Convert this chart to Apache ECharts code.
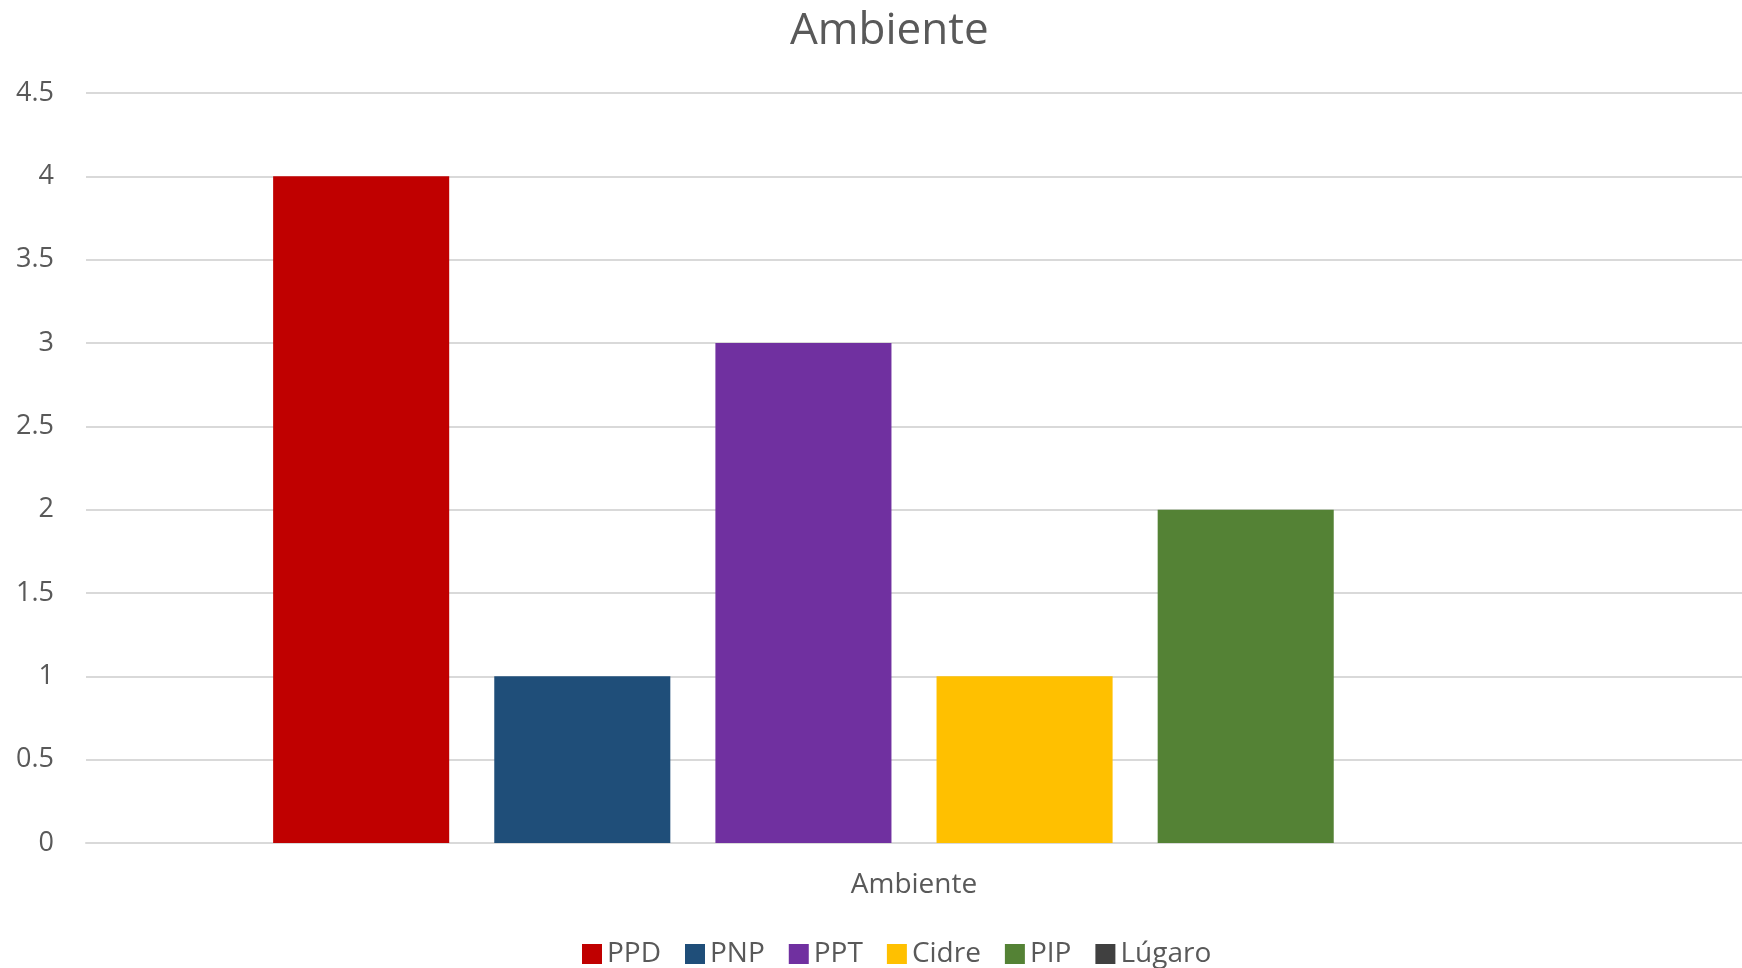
<!DOCTYPE html>
<html>
<head>
<meta charset="utf-8">
<script src="https://cdn.jsdelivr.net/npm/echarts@6/dist/echarts.min.js"></script>
<style>html,body{margin:0;padding:0;background:#fff}#c{width:1742px;height:968px}</style>
</head>
<body>
<div id="c"></div>
<script>
const categories = ['Ambiente'];
const seriesNames = ['PPD', 'PNP', 'PPT', 'Cidre', 'PIP', 'Lúgaro'];
const seriesValues = [[4], [1], [3], [1], [2], [0]];
const seriesColors = ['#C00000', '#1F4E79', '#7030A0', '#FFC000', '#548235', '#404040'];
const yTicks = [0, 0.5, 1, 1.5, 2, 2.5, 3, 3.5, 4, 4.5];

const FONT = '"Open Sans", "Noto Sans", sans-serif';
const chart = echarts.init(document.getElementById('c'), null, {renderer: 'canvas'});
chart.setOption({
  animation: false,
  backgroundColor: '#ffffff',
  title: {
    text: 'Ambiente',
    left: 785,
    top: 4,
    textStyle: {fontFamily: FONT, fontSize: 44, fontWeight: 'normal', color: '#595959'}
  },
  legend: {
    data: seriesNames,
    top: 935,
    left: 577,
    itemWidth: 20,
    itemHeight: 20,
    itemGap: 24,
    icon: 'rect',
    textStyle: {fontFamily: FONT, fontSize: 28, color: '#595959'}
  },
  grid: {left: 86, right: 0, top: 93, bottom: 125, containLabel: false},
  xAxis: {
    type: 'category',
    data: categories,
    axisLine: {lineStyle: {color: '#d9d9d9', width: 2}},
    axisTick: {show: false},
    axisLabel: {fontFamily: FONT, fontSize: 28, color: '#595959', margin: 28}
  },
  yAxis: {
    type: 'value',
    min: 0,
    max: yTicks[yTicks.length - 1],
    interval: 0.5,
    axisLine: {show: false},
    axisTick: {show: false},
    axisLabel: {fontFamily: FONT, fontSize: 27, color: '#595959', margin: 32},
    splitLine: {lineStyle: {color: '#d9d9d9', width: 2}}
  },
  series: seriesNames.map((n, i) => ({
    name: n,
    type: 'bar',
    data: seriesValues[i],
    barGap: '25.6%',
    barCategoryGap: '22.6%',
    itemStyle: {color: seriesColors[i]}
  }))
});
</script>
</body>
</html>
